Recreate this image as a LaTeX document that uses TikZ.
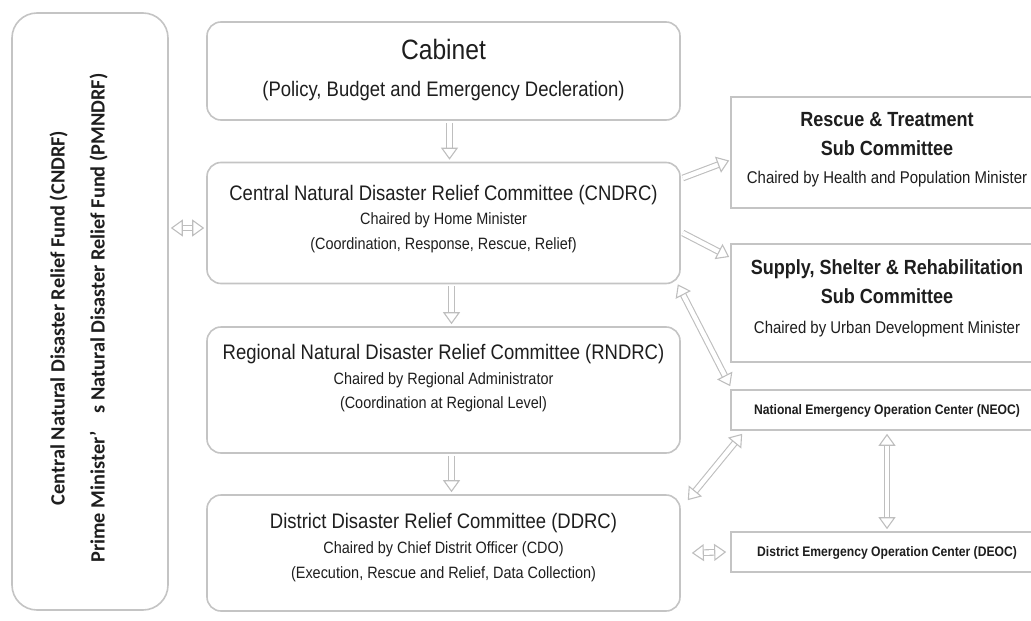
\documentclass[tikz,border=0pt]{standalone}
\usepackage{fontspec}
\setmainfont{Liberation Sans}[FakeStretch=0.88]
\newfontfamily\calib{Carlito}
\usetikzlibrary{arrows.meta,calc}
\definecolor{bord}{HTML}{C4C4C4}
\definecolor{agray}{HTML}{BEBEBE}
\definecolor{txt}{HTML}{1E1E1E}
\begin{document}
\begin{tikzpicture}[x=1pt,y=-1pt,
  rbox/.style={draw=bord, line width=1.6pt, rounded corners=14pt, fill=white, inner sep=0pt},
  sbox/.style={draw=bord, line width=1.6pt, fill=white, inner sep=0pt},
  lab/.style={text=txt, inner sep=0pt, text height=0.72em, text depth=0.2em},
  big/.style={lab, font=\fontsize{28}{32}\selectfont},
  ttl/.style={lab, font=\fontsize{21}{24}\selectfont},
  sub/.style={lab, font=\fontsize{16.4}{20}\selectfont},
  rtl/.style={lab, font=\bfseries\fontsize{20.5}{24}\selectfont},
  rsub/.style={lab, font=\fontsize{17}{20}\selectfont},
  eoc/.style={lab, font=\bfseries\fontsize{13.8}{16}\selectfont},
  side/.style={lab, rotate=90, font=\calib\bfseries\fontsize{20.3}{24}\selectfont},
  tip/.style={Triangle[open, length=12pt, width=17pt, line width=1.1pt]},
  conn/.style={draw=agray, line width=1.1pt, double=white, double distance=4.5pt, -{Triangle[open, length=12pt, width=17pt, line width=1.1pt]}},
  conn2/.style={conn, {Triangle[open, length=12pt, width=17pt, line width=1.1pt]}-{Triangle[open, length=12pt, width=17pt, line width=1.1pt]}}
]
\useasboundingbox (0,0) rectangle (1031,621);

% boxes
\node[rbox, rounded corners=25pt, minimum width=156pt, minimum height=597pt] (left) at (90,311.5) {};
\node[rbox, minimum width=473pt, minimum height=98pt]  (cab)   at (443.5,71) {};
\node[rbox, minimum width=473pt, minimum height=121pt] (cndrc) at (443.5,223) {};
\node[rbox, minimum width=473pt, minimum height=126pt] (rndrc) at (443.5,390) {};
\node[rbox, minimum width=473pt, minimum height=116pt] (ddrc)  at (443.5,553) {};
\node[sbox, minimum width=312pt, minimum height=111pt] (rescue) at (887,152.5) {};
\node[sbox, minimum width=312pt, minimum height=118pt] (supply) at (887,303) {};
\node[sbox, minimum width=312pt, minimum height=40pt]  (neoc)   at (887,410) {};
\node[sbox, minimum width=312pt, minimum height=40pt]  (deoc)   at (887,552) {};

% texts
\node[side] (lt1) at (62,318) {Central Natural Disaster Relief Fund (CNDRF)};
\node[side] (lt2) at (102,318) {Prime Minister’\hspace{0.9em}s Natural Disaster Relief Fund (PMNDRF)};

\node[big] (cab1) at (443.5,57) {Cabinet};
\node[ttl] (cab2) at (443.5,94) {(Policy, Budget and Emergency Decleration)};

\node[ttl] (cn1) at (443.5,198) {Central Natural Disaster Relief Committee (CNDRC)};
\node[sub] (cn2) at (443.5,222) {Chaired by Home Minister};
\node[sub] (cn3) at (443.5,247) {(Coordination, Response, Rescue, Relief)};

\node[ttl] (rn1) at (443.5,357) {Regional Natural Disaster Relief Committee (RNDRC)};
\node[sub] (rn2) at (443.5,382) {Chaired by Regional Administrator};
\node[sub] (rn3) at (443.5,406) {(Coordination at Regional Level)};

\node[ttl] (dd1) at (443.5,526) {District Disaster Relief Committee (DDRC)};
\node[sub] (dd2) at (443.5,551) {Chaired by Chief Distrit Officer (CDO)};
\node[sub] (dd3) at (443.5,576) {(Execution, Rescue and Relief, Data Collection)};

\node[rtl] (rs1) at (887,124) {Rescue \& Treatment};
\node[rtl] (rs2) at (887,153) {Sub Committee};
\node[rsub] (rs3) at (887,181) {Chaired by Health and Population Minister};

\node[rtl] (su1) at (887,272) {Supply, Shelter \& Rehabilitation};
\node[rtl] (su2) at (887,301) {Sub Committee};
\node[rsub] (su3) at (887,331) {Chaired by Urban Development Minister};

\node[eoc] (ne1) at (887,412) {National Emergency Operation Center (NEOC)};
\node[eoc] (de1) at (887,554) {District Emergency Operation Center (DEOC)};

% connectors
\draw[conn2] ($(left.east|-cndrc.east)+(2,5)$) -- ($(cndrc.west)+(-2,5)$);
\draw[conn] ($(cab.south)+(6,2)$) -- ($(cndrc.north)+(6,-2)$);
\draw[conn] ($(cndrc.south)+(8,2)$) -- ($(rndrc.north)+(8,-2)$);
\draw[conn] ($(rndrc.south)+(8,2)$) -- ($(ddrc.north)+(8,-2)$);
\draw[conn] ($(cndrc.east)+(2,-45)$) -- ($(rescue.west)+(-1,8)$);
\draw[conn] ($(cndrc.east)+(2,10)$) -- ($(supply.west)+(-1,-46)$);
\draw[conn2] ($(cndrc.south east)+(-3,0)$) -- ($(neoc.north west)+(0,-3)$);
\draw[conn2] ($(neoc.south west)+(12,3)$) -- ($(ddrc.north east)+(7,6)$);
\draw[conn2] ($(neoc.south)+(0,3)$) -- ($(deoc.north)+(0,-2)$);
\draw[conn2] ($(ddrc.east)+(11,0)$) -- ($(deoc.west)+(-4,0)$);
\end{tikzpicture}
\end{document}
